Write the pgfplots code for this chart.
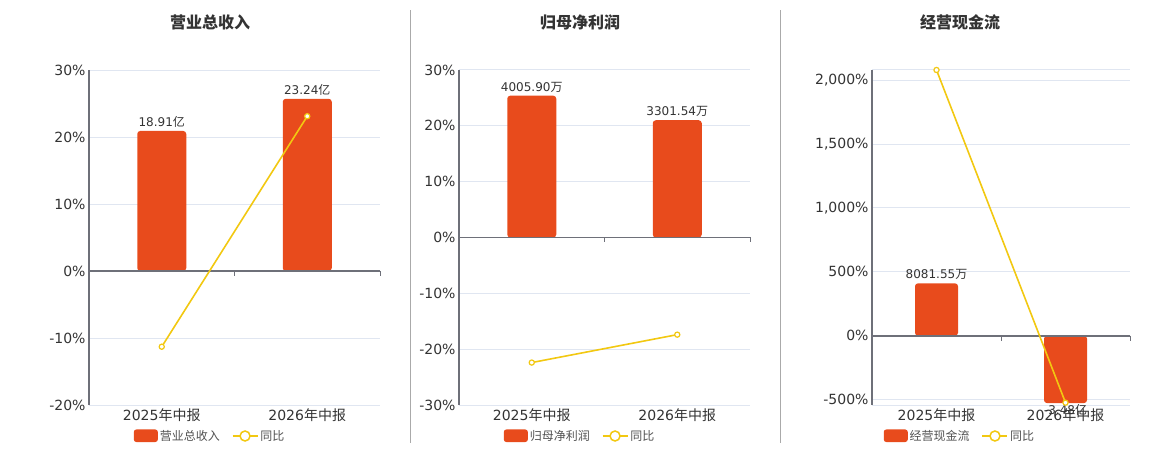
\documentclass[border=0pt]{standalone}
\usepackage{pgfplots}
\pgfplotsset{compat=1.18}
\usepackage{fontspec}
\setmainfont{DejaVu Sans}
\newfontfamily\cjk{Noto Sans CJK SC}
\DeclareRobustCommand\yi{{\cjk 亿}}
\DeclareRobustCommand\wan{{\cjk 万}}
\definecolor{barred}{HTML}{E84B1C}
\definecolor{lineyel}{HTML}{F2C811}
\definecolor{gridc}{HTML}{E0E6F1}
\definecolor{axisc}{HTML}{6E7079}
\definecolor{txt}{HTML}{333333}
\definecolor{sepc}{HTML}{AAAAAA}
\pgfplotsset{
  panel/.style={
    scale only axis, height=335bp, anchor=south west,
    xmin=-0.5, xmax=1.5,
    xtick={0,1},
    xticklabels={2025{\cjk 年中报}, 2026{\cjk 年中报}},
    axis x line=box, axis y line=left,
    x axis line style={draw=gridc, line width=1bp, -},
    y axis line style={draw=axisc, line width=1.2bp, -},
    major tick length=0pt,
    ymajorgrids, grid style={draw=gridc, line width=1bp},
    tick label style={font=\fontsize{14bp}{16bp}\selectfont, text=txt},
    yticklabel={\pgfmathprintnumber{\tick}\%},
    /pgf/number format/assume math mode=true,
    /pgf/number format/1000 sep={,},
    clip=false,
    legend style={draw=none, fill=none, font=\fontsize{12bp}{14bp}\selectfont\cjk, text=txt!85,
      legend columns=2, /tikz/every even column/.append style={column sep=10bp},
      inner sep=0pt, anchor=center, yshift=-31bp},
    legend cell align=left,
  },
  barplot/.style={ybar, bar width=#1, fill=barred, draw=none, rounded corners=3bp,
    nodes near coords, point meta=explicit symbolic,
    every node near coord/.style={font=\fontsize{12bp}{14bp}\selectfont, text=txt, rounded corners=0pt, anchor=south},
    legend image code/.code={\fill[barred, rounded corners=2.5bp] (0bp,-6bp) rectangle (24bp,6.5bp);}},
  lineplot/.style={lineyel, line width=1.6bp, mark=*, mark size=2.6bp,
    mark options={fill=white, draw=lineyel, line width=1.2bp},
    legend image code/.code={\draw[lineyel, line width=1.5bp] (0bp,0bp) -- (25bp,0bp);
      \draw[lineyel, fill=white, line width=1.5bp] (12.5bp,0bp) circle (5bp);}},
}
\newcommand\zeroline{%
  \draw[axisc, line width=1bp] (axis cs:0.5,0) -- ([yshift=-5bp]axis cs:0.5,0);
  \draw[axisc, line width=1bp] (axis cs:1.5,0) -- ([yshift=-5bp]axis cs:1.5,0);
  \draw[axisc, line width=1.8bp] (axis cs:-0.5,0) -- (axis cs:1.5,0);
}
\begin{document}
\begin{tikzpicture}
\path[use as bounding box] (0,0) rectangle (1160bp,450bp);
\draw[sepc, line width=1bp] (410.5bp,7bp) -- (410.5bp,440bp);
\draw[sepc, line width=1bp] (780.5bp,7bp) -- (780.5bp,440bp);
\node[font=\fontsize{16bp}{18bp}\selectfont\cjk\bfseries, text=txt] at (210bp,428bp) {营业总收入};
\node[font=\fontsize{16bp}{18bp}\selectfont\cjk\bfseries, text=txt] at (580bp,428bp) {归母净利润};
\node[font=\fontsize{16bp}{18bp}\selectfont\cjk\bfseries, text=txt] at (960bp,428bp) {经营现金流};

\begin{axis}[panel, width=291bp, at={(89bp,45bp)},
  ymin=-20, ymax=30, ytick={-20,-10,0,10,20,30},
  legend style={at={(0.416,0)}}]
  \addplot[barplot=49bp] coordinates {(0,20.9) [18.91\yi] (1,25.7) [23.24\yi]};
  \zeroline
  \addplot[lineplot] coordinates {(0,-11.3) (1,23.1)};
  \legend{营业总收入, 同比}
\end{axis}

\begin{axis}[panel, width=291bp, at={(459bp,45bp)},
  ymin=-30, ymax=30, ytick={-30,-20,-10,0,10,20,30},
  legend style={at={(0.416,0)}}]
  \addplot[barplot=49bp] coordinates {(0,25.4) [4005.90\wan] (1,21.0) [3301.54\wan]};
  \zeroline
  \addplot[lineplot] coordinates {(0,-22.4) (1,-17.4)};
  \legend{归母净利润, 同比}
\end{axis}

\begin{axis}[panel, width=258bp, at={(872bp,45bp)},
  ymin=-542, ymax=2079, ytick={-500,0,500,1000,1500,2000},
  legend style={at={(0.341,0)}}]
  \addplot[barplot=43bp] coordinates {(0,410) [8081.55\wan]};
  \addplot[barplot=43bp, forget plot, every node near coord/.append style={anchor=north, inner sep=1bp}] coordinates {(1,-527) [-3.48\yi]};
  \zeroline
  \addplot[lineplot] coordinates {(0,2079) (1,-524)};
  \legend{经营现金流, 同比}
\end{axis}
\end{tikzpicture}
\end{document}
